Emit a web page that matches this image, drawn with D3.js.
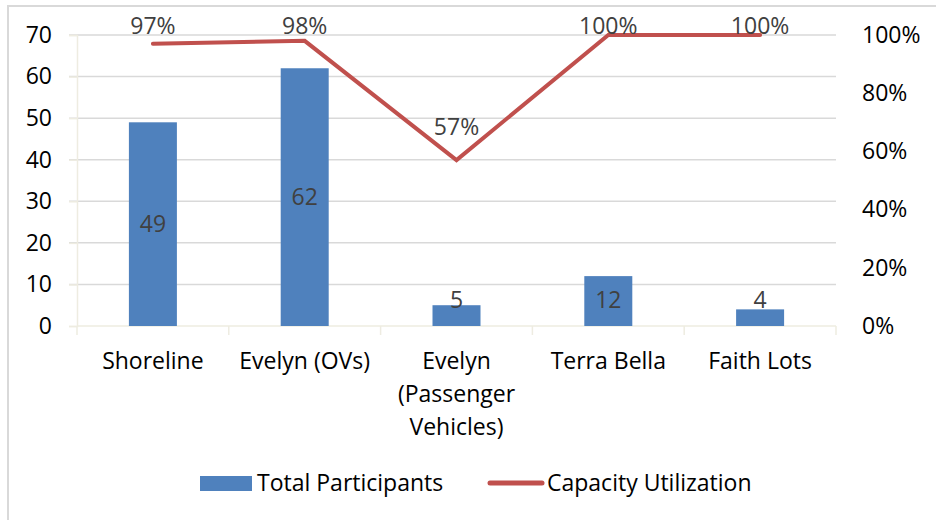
<!DOCTYPE html>
<html>
<head>
<meta charset="utf-8">
<script src="https://cdn.jsdelivr.net/npm/d3@7"></script>
<style>
  body { margin: 0; background: #fff; }
  svg { font-family: "Open Sans", sans-serif; }
</style>
</head>
<body>
<div id="chart"></div>
<script>
const categories = [["Shoreline"], ["Evelyn (OVs)"], ["Evelyn", "(Passenger", "Vehicles)"], ["Terra Bella"], ["Faith Lots"]];
const participants = [49, 62, 5, 12, 4];
const utilization = [0.97, 0.98, 0.57, 1.0, 1.0];
const leftTicks = [0, 10, 20, 30, 40, 50, 60, 70];
const rightTicks = [0, 0.2, 0.4, 0.6, 0.8, 1.0];

const width = 936, height = 520,
      margin = ({ top: 35, right: 100, bottom: 194, left: 77 });
const fs = 23;

const data = categories.map((c, i) => ({ key: c.join(" "), lines: c, count: participants[i], pct: utilization[i] }));

let svg = d3.select("#chart")
    .append("svg")
    .attr("width", width)
    .attr("height", height);

// chart area border (only top and left visible)
svg.append("path")
    .attr("d", `M8,${height} V6 H${width}`)
    .attr("fill", "none")
    .attr("stroke", "#d9d9d9")
    .attr("stroke-width", 2);

let x = d3.scaleBand()
    .domain(data.map(d => d.key))
    .range([margin.left, width - margin.right]);

let y = d3.scaleLinear()
    .domain([0, 70])
    .range([height - margin.bottom, margin.top]);

let y2 = d3.scaleLinear()
    .domain([0, 1])
    .range([height - margin.bottom, margin.top]);

// gridlines
svg.append("g")
    .selectAll("line")
    .data(leftTicks.filter(t => t > 0))
    .join("line")
    .attr("x1", margin.left - 8)
    .attr("x2", width - margin.right)
    .attr("y1", d => y(d))
    .attr("y2", d => y(d))
    .attr("stroke", "#d9d9d9")
    .attr("stroke-width", 1.5);

// left axis
let yAxis = svg.append("g")
    .attr("transform", `translate(${margin.left},0)`)
    .call(d3.axisLeft(y).tickValues(leftTicks).tickSize(8).tickPadding(17));
yAxis.select(".domain").attr("stroke", "#eeece1").attr("stroke-width", 1.5);
yAxis.selectAll(".tick line").attr("stroke", "#eeece1").attr("stroke-width", 1.5);
yAxis.selectAll(".tick text").attr("font-size", fs).attr("fill", "#000").attr("font-family", "Open Sans");

// right axis
let y2Axis = svg.append("g")
    .attr("transform", `translate(${width - margin.right},0)`)
    .call(d3.axisRight(y2).tickValues(rightTicks).tickSize(0).tickPadding(26).tickFormat(d3.format(".0%")));
y2Axis.select(".domain").remove();
y2Axis.selectAll(".tick text").attr("font-size", fs).attr("fill", "#000").attr("font-family", "Open Sans");

// x axis
let xAxis = svg.append("g")
    .attr("transform", `translate(0,${y(0)})`);
xAxis.append("line")
    .attr("x1", margin.left).attr("x2", width - margin.right)
    .attr("stroke", "#eeece1").attr("stroke-width", 1.5);
xAxis.selectAll(".xtick")
    .data([...x.domain().map(k => x(k)), width - margin.right])
    .join("line")
    .attr("class", "xtick")
    .attr("x1", d => d).attr("x2", d => d)
    .attr("y1", 0).attr("y2", 9)
    .attr("stroke", "#eeece1").attr("stroke-width", 1.5);

let xl = xAxis.selectAll(".xlabel")
    .data(data)
    .join("text")
    .attr("class", "xlabel")
    .attr("text-anchor", "middle")
    .attr("font-size", fs)
    .attr("fill", "#000")
    .attr("x", d => x(d.key) + x.bandwidth() / 2)
    .attr("y", 43);
xl.selectAll("tspan")
    .data(d => d.lines.map(l => ({ l, cx: x(d.key) + x.bandwidth() / 2 })))
    .join("tspan")
    .attr("x", d => d.cx)
    .attr("dy", (d, i) => i === 0 ? 0 : 33)
    .text(d => d.l);

// bars
const barW = 48;
let bar = svg.selectAll(".bar")
    .data(data)
    .join("g")
    .attr("class", "bar");

bar.append("rect")
    .attr("fill", "#4f81bd")
    .attr("x", d => x(d.key) + x.bandwidth() / 2 - barW / 2)
    .attr("width", barW)
    .attr("y", d => y(d.count))
    .attr("height", d => y(0) - y(d.count));

bar.append("text")
    .text(d => d.count)
    .attr("x", d => x(d.key) + x.bandwidth() / 2)
    .attr("y", d => Math.min((y(d.count) + y(0)) / 2, y(0) - 26))
    .attr("dy", "0.35em")
    .attr("text-anchor", "middle")
    .attr("font-size", fs)
    .attr("fill", "#404040");

// line
let line = d3.line()
    .x(d => x(d.key) + x.bandwidth() / 2)
    .y(d => y2(d.pct));

svg.append("path")
    .datum(data)
    .attr("fill", "none")
    .attr("stroke", "#c0504d")
    .attr("stroke-width", 4)
    .attr("stroke-linecap", "round")
    .attr("stroke-linejoin", "miter")
    .attr("d", line);

svg.selectAll(".pct")
    .data(data)
    .join("text")
    .attr("class", "pct")
    .attr("x", d => x(d.key) + x.bandwidth() / 2)
    .attr("y", d => Math.max(y2(d.pct) - 25, margin.top - 1))
    .attr("text-anchor", "middle")
    .attr("font-size", fs)
    .attr("fill", "#404040")
    .text(d => d3.format(".0%")(d.pct));

// legend
let legend = svg.append("g").attr("transform", "translate(0,483)");
legend.append("rect")
    .attr("x", 200).attr("y", -7).attr("width", 52).attr("height", 15)
    .attr("fill", "#4f81bd");
legend.append("text")
    .attr("x", 257).attr("y", 0).attr("dy", "0.35em")
    .attr("font-size", fs).attr("fill", "#000")
    .text("Total Participants");
legend.append("line")
    .attr("x1", 490).attr("x2", 542).attr("y1", 0).attr("y2", 0)
    .attr("stroke", "#c0504d").attr("stroke-width", 5).attr("stroke-linecap", "round");
legend.append("text")
    .attr("x", 547).attr("y", 0).attr("dy", "0.35em")
    .attr("font-size", fs).attr("fill", "#000")
    .text("Capacity Utilization");
</script>
</body>
</html>
